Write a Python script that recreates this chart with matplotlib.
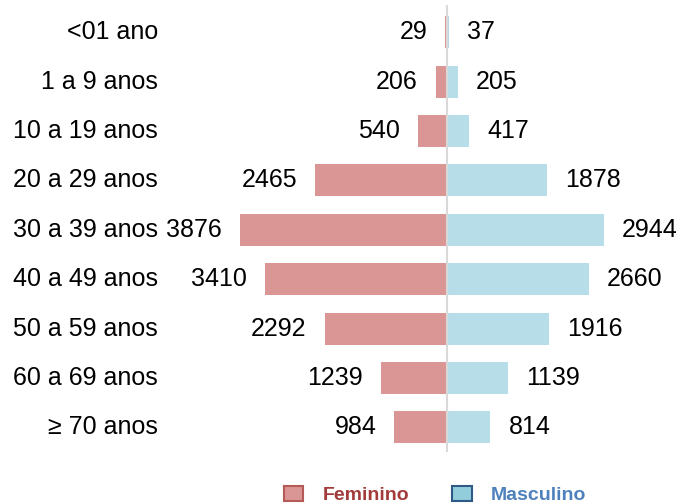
import numpy as np
import matplotlib.pyplot as plt
from matplotlib.patches import Patch

# faixas etarias e casos por sexo
faixas = ['<01 ano', '1 a 9 anos', '10 a 19 anos', '20 a 29 anos', '30 a 39 anos',
          '40 a 49 anos', '50 a 59 anos', '60 a 69 anos', '≥ 70 anos']
feminino = [29, 206, 540, 2465, 3876, 3410, 2292, 1239, 984]
masculino = [37, 205, 417, 1878, 2944, 2660, 1916, 1139, 814]

cor_fem = '#da9694'
cor_masc = '#b7dde8'

plt.rcParams['font.family'] = ['Liberation Sans', 'DejaVu Sans']

fig = plt.figure(figsize=(6.82, 5.04), dpi=100)
ax = fig.add_axes([0.242, 0.103, 0.758, 0.887])

y = np.arange(len(faixas))
ax.barh(y, [-v for v in feminino], height=0.65, color=cor_fem)
ax.barh(y, masculino, height=0.65, color=cor_masc)
ax.axvline(0, color='#d9d9d9', lw=1.5)

fs = 18
for i in range(len(faixas)):
    ax.annotate(str(feminino[i]), (-feminino[i], i), xytext=(-13, 0),
                textcoords='offset points', ha='right', va='center', fontsize=fs)
    ax.annotate(str(masculino[i]), (masculino[i], i), xytext=(13, 0),
                textcoords='offset points', ha='left', va='center', fontsize=fs)
    ax.annotate(faixas[i], (0, i), xycoords=('axes fraction', 'data'), xytext=(-5, 0),
                textcoords='offset points', ha='right', va='center', fontsize=fs,
                annotation_clip=False)

ax.set_xlim(-5282, 4402)
ax.set_ylim(8.5, -0.55)
ax.axis('off')

handles = [Patch(facecolor=cor_fem, edgecolor='#b55a58', lw=1.5, label='Feminino'),
           Patch(facecolor='#92cddc', edgecolor='#2f5a85', lw=1.5, label='Masculino')]
leg = fig.legend(handles=handles, loc='center', bbox_to_anchor=(0.638, 0.018), ncol=2,
                 frameon=False, prop={'weight': 'bold', 'size': 14},
                 handlelength=1.0, handleheight=0.85, columnspacing=2.2, handletextpad=1.0,
                 borderpad=0)
for t, c in zip(leg.get_texts(), ['#a33b3b', '#4f81bd']):
    t.set_color(c)

fig.savefig('out.png', dpi=100)
